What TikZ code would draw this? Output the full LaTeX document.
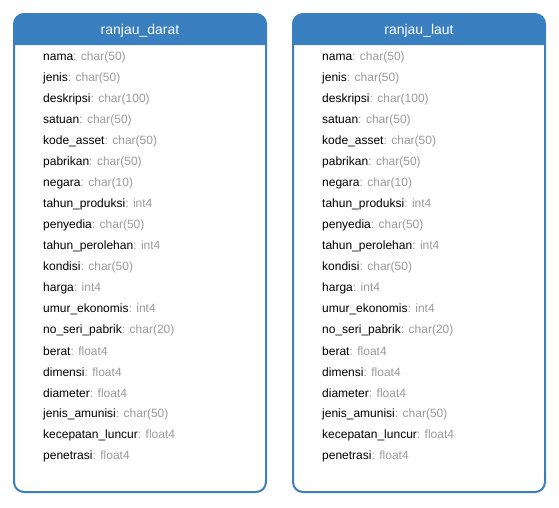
\documentclass[tikz,border=0pt]{standalone}
\usepackage{fontspec}
\setmainfont{Liberation Sans}
\definecolor{hdr}{HTML}{3A80C1}
\definecolor{typ}{HTML}{9A9A9A}
\tikzset{
  field/.style={anchor=west, inner sep=0pt, font=\fontsize{12}{14}\selectfont},
  title/.style={inner sep=0pt, text=white, font=\fontsize{14}{16}\selectfont},
}
\newcommand{\fld}[2]{#1\textcolor{typ}{: #2}}
\begin{document}
\begin{tikzpicture}[x=1pt,y=-1pt]
\useasboundingbox (0,0) rectangle (559,507);
\foreach \bx/\nm in {14/ranjau\_darat, 293/ranjau\_laut}{
  \fill[hdr] (\bx,45) [rounded corners=10pt]-- (\bx,14) -- (\bx+252,14) [sharp corners]-- (\bx+252,45) -- cycle;
  \draw[hdr, line width=2pt, rounded corners=10pt] (\bx,14) rectangle (\bx+252,492);
  \node[title] (t\bx) at (\bx+126,31) {\nm};
  \foreach \i/\f/\t in {0/nama/char(50),1/jenis/char(50),2/deskripsi/char(100),3/satuan/char(50),4/kode\_asset/char(50),5/pabrikan/char(50),6/negara/char(10),7/tahun\_produksi/int4,8/penyedia/char(50),9/tahun\_perolehan/int4,10/kondisi/char(50),11/harga/int4,12/umur\_ekonomis/int4,13/no\_seri\_pabrik/char(20),14/berat/float4,15/dimensi/float4,16/diameter/float4,17/jenis\_amunisi/char(50),18/kecepatan\_luncur/float4,19/penetrasi/float4}{
    \node[field] (f\bx-\i) at (\bx+29,57.5+21*\i) {\fld{\f}{\t}};
  }
}
\end{tikzpicture}
\end{document}
